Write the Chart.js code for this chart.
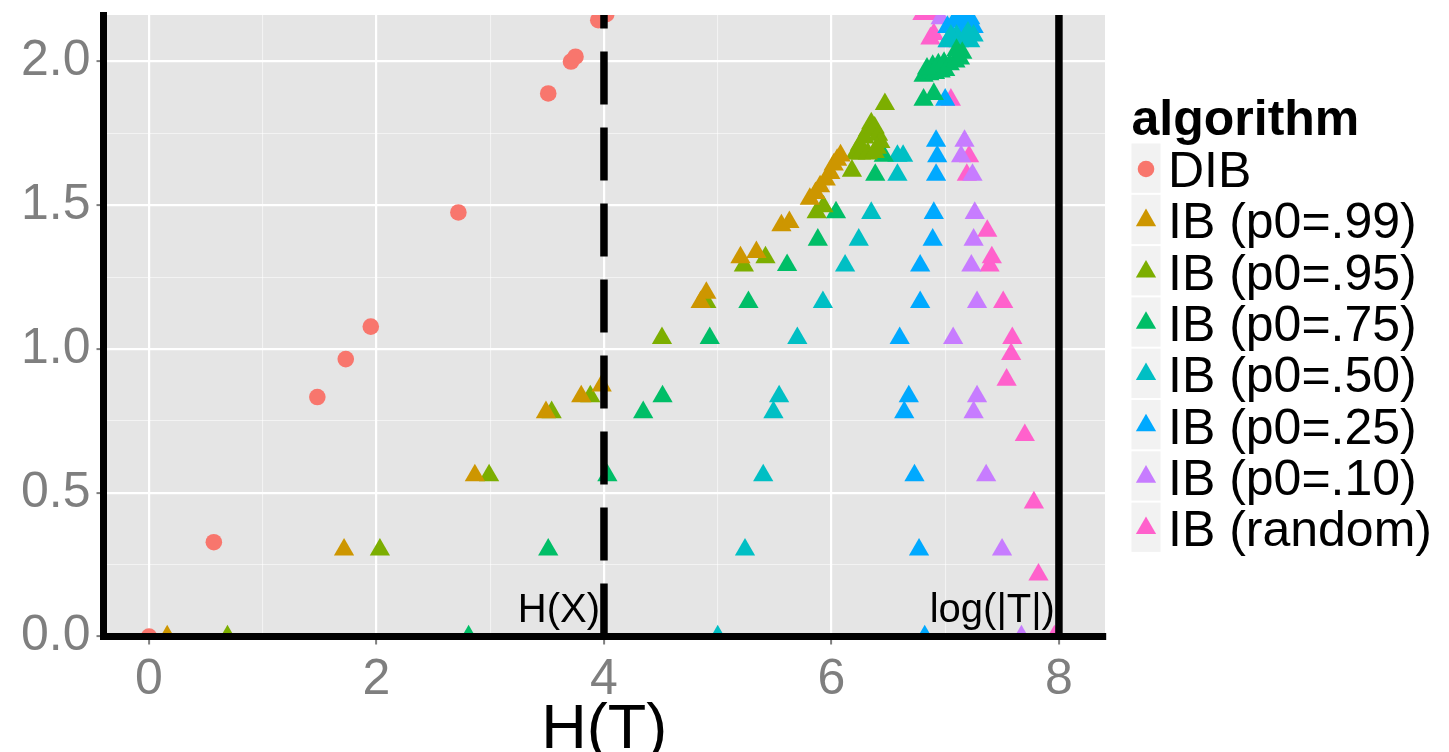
<!DOCTYPE html>
<html>
<head>
<meta charset="utf-8">
<script src="https://cdn.jsdelivr.net/npm/chart.js@4.4.0/dist/chart.umd.min.js"></script>
<style>
  html, body { margin: 0; padding: 0; background: #fff; }
</style>
</head>
<body>
<canvas id="ibPlot" width="1449" height="752"></canvas>
<script>
// series labels and colours (ggplot hue palette)
const seriesNames = ["DIB", "IB (p0=.99)", "IB (p0=.95)", "IB (p0=.75)", "IB (p0=.50)", "IB (p0=.25)", "IB (p0=.10)", "IB (random)"];
const seriesColors = ["#F8766D", "#CD9600", "#7CAE00", "#00BE67", "#00BFC4", "#00A9FF", "#C77CFF", "#FF61CC"];

// [H(T), y] pairs
const dibPts = [[0,0],[0.57,0.328],[1.48,0.833],[1.73,0.965],[1.95,1.078],[2.72,1.475],[3.51,1.889],[3.71,2.0],[3.75,2.017],[3.95,2.144],[4.02,2.165]];
const ib99 = [[0.16,0],[1.715,0.302],[2.865,0.56],[3.49,0.78],[3.80,0.835],[3.98,0.873],[4.85,1.163],[4.90,1.195],[5.20,1.319],[5.34,1.337],[5.56,1.43],[5.63,1.441],[5.81,1.522],[5.86,1.542],[5.90,1.566],[5.95,1.589],[5.99,1.612],[6.02,1.641],[6.05,1.658],[6.08,1.673]];
const ib95 = [[0.69,0],[2.03,0.302],[2.99,0.56],[3.54,0.78],[3.88,0.835],[4.51,1.038],[4.90,1.163],[5.23,1.29],[5.42,1.319],[5.87,1.475],[5.93,1.496],[6.18,1.62],[6.21,1.68],[6.26,1.68],[6.32,1.68],[6.38,1.685],[6.25,1.71],[6.29,1.735],[6.32,1.76],[6.35,1.785],[6.38,1.77],[6.41,1.745],[6.43,1.72],[6.40,1.70],[6.47,1.852]];
const ib75 = [[2.81,0],[3.51,0.302],[4.03,0.56],[4.345,0.78],[4.515,0.835],[4.93,1.038],[5.27,1.163],[5.61,1.292],[5.88,1.38],[6.04,1.475],[6.385,1.606],[6.46,1.672],[6.81,1.867],[6.90,1.887],[6.81,1.95],[6.86,1.955],[6.91,1.96],[6.96,1.965],[7.00,1.97],[6.84,1.975],[6.89,1.985],[6.94,1.99],[6.99,1.995],[7.04,1.99],[7.09,2.0],[7.13,2.01],[7.15,2.03],[7.10,2.04]];
const ib50 = [[5.00,0],[5.24,0.302],[5.40,0.56],[5.49,0.78],[5.54,0.835],[5.70,1.038],[5.925,1.163],[6.12,1.29],[6.24,1.38],[6.35,1.473],[6.58,1.606],[6.58,1.672],[6.63,1.672],[7.02,2.07],[7.07,2.075],[7.12,2.07],[7.17,2.08],[7.22,2.07],[7.25,2.09],[7.10,2.09],[7.20,2.10],[7.05,2.09]];
const ib25 = [[6.82,0],[6.77,0.302],[6.73,0.56],[6.64,0.78],[6.68,0.835],[6.60,1.038],[6.78,1.163],[6.78,1.29],[6.89,1.38],[6.90,1.473],[6.92,1.606],[6.93,1.67],[6.92,1.724],[7.00,1.867],[7.02,2.12],[7.08,2.14],[7.14,2.15],[7.20,2.13],[7.25,2.12],[7.16,2.11],[7.22,2.15]];
const ib10 = [[7.67,0],[7.50,0.302],[7.36,0.56],[7.25,0.78],[7.28,0.835],[7.07,1.038],[7.28,1.163],[7.23,1.29],[7.25,1.38],[7.26,1.473],[7.24,1.606],[7.14,1.67],[7.17,1.724],[7.03,2.07],[6.96,2.15]];
const ibRandom = [[7.96,0],[7.82,0.215],[7.78,0.466],[7.70,0.70],[7.54,0.893],[7.58,0.982],[7.59,1.038],[7.51,1.163],[7.39,1.29],[7.41,1.319],[7.37,1.411],[7.19,1.606],[7.21,1.67],[7.05,1.867],[6.87,2.08],[6.90,2.095],[6.80,2.165],[6.88,2.165]];

const allSeries = [dibPts, ib99, ib95, ib75, ib50, ib25, ib10, ibRandom];

// axis ticks (minor ones get no label)
const xTickValues = [0, 1, 2, 3, 4, 5, 6, 7, 8];
const yTickValues = [0, 0.25, 0.5, 0.75, 1, 1.25, 1.5, 1.75, 2];
const xTitle = "H(T)";
const legendTitle = "algorithm";

// vertical reference lines
const refLines = [
  { x: 4, label: "H(X)", dashed: true },
  { x: 8, label: "log(|T|)", dashed: false }
];

const FONT = "'Liberation Sans', Arial, Helvetica, sans-serif";

const isMajorX = v => v % 2 === 0;
const isMajorY = v => Math.abs(v * 2 - Math.round(v * 2)) < 1e-9;

const panelPlugin = {
  id: "panel",
  beforeDraw(chart) {
    const a = chart.chartArea, ctx = chart.ctx;
    ctx.save();
    ctx.fillStyle = "#E5E5E5";
    ctx.fillRect(a.left, a.top, a.right - a.left, a.bottom - a.top);
    ctx.restore();
  },
  afterDatasetsDraw(chart) {
    const a = chart.chartArea, ctx = chart.ctx;
    const xs = chart.scales.x;
    ctx.save();
    refLines.forEach(r => {
      const px = xs.getPixelForValue(r.x);
      ctx.beginPath();
      ctx.strokeStyle = "#000";
      ctx.lineWidth = 7.5;
      ctx.setLineDash(r.dashed ? [53, 23] : []);
      ctx.moveTo(px, a.bottom);
      ctx.lineTo(px, a.top);
      ctx.stroke();
      ctx.setLineDash([]);
      ctx.fillStyle = "#000";
      ctx.font = "40px " + FONT;
      ctx.textAlign = "right";
      ctx.textBaseline = "alphabetic";
      ctx.fillText(r.label, px - 4, 622);
    });
    ctx.restore();
  },
  afterDraw(chart) {
    const ctx = chart.ctx, a = chart.chartArea;
    ctx.save();
    // x axis title
    ctx.fillStyle = "#000";
    ctx.font = "63px " + FONT;
    ctx.textAlign = "center";
    ctx.textBaseline = "alphabetic";
    ctx.fillText(xTitle, (a.left + a.right) / 2, 748);

    // legend
    const lx = 1131.5, top0 = 143.5, rowH = 51.3;
    ctx.textAlign = "left";
    ctx.font = "bold 50px " + FONT;
    ctx.fillText(legendTitle, lx, 135);
    ctx.font = "50px " + FONT;
    chart.data.datasets.forEach((ds, i) => {
      const t = top0 + i * rowH;
      const cy = t + 25.5;
      ctx.fillStyle = "#F2F2F2";
      ctx.fillRect(lx, t, 29, rowH - 2);
      ctx.fillStyle = ds.backgroundColor;
      Chart.helpers.drawPoint(ctx, { pointStyle: ds.pointStyle, radius: ds.pointRadius, rotation: 0, borderWidth: 0 }, lx + 14.5, cy);
      ctx.fillStyle = "#000";
      ctx.fillText(ds.label, 1168, cy + 18);
    });
    ctx.restore();
  }
};

const datasets = allSeries.map((pts, i) => ({
  label: seriesNames[i],
  data: pts.map(p => ({ x: p[0], y: p[1] })),
  pointStyle: i === 0 ? "circle" : "triangle",
  pointRadius: i === 0 ? 8.3 : 11.7,
  pointHoverRadius: i === 0 ? 8.3 : 11.7,
  backgroundColor: seriesColors[i],
  borderColor: seriesColors[i],
  pointBorderWidth: 0,
  borderWidth: 0,
  showLine: false,
  clip: 0
}));

new Chart(document.getElementById("ibPlot"), {
  type: "scatter",
  data: { datasets },
  options: {
    responsive: false,
    devicePixelRatio: 1,
    animation: false,
    layout: { autoPadding: false, padding: { left: 0, top: 15, right: 344, bottom: 0 } },
    plugins: { legend: { display: false }, tooltip: { enabled: false } },
    scales: {
      x: {
        type: "linear",
        min: -0.40,
        max: 8.405,
        afterBuildTicks: s => { s.ticks = xTickValues.map(v => ({ value: v })); },
        afterFit: s => { s.height = 115.5; },
        ticks: {
          callback: v => (isMajorX(v) ? String(v) : ""),
          font: { size: 50, family: FONT },
          color: "#7F7F7F",
          padding: 6,
          maxRotation: 0,
          autoSkip: false
        },
        grid: {
          color: c => (c.tick && isMajorX(c.tick.value) ? "#FFFFFF" : "rgba(255,255,255,0.55)"),
          lineWidth: c => (c.tick && isMajorX(c.tick.value) ? 2.2 : 1.1),
          tickColor: c => (c.tick && isMajorX(c.tick.value) ? "#7F7F7F" : "rgba(0,0,0,0)"),
          tickLength: 8,
          tickWidth: 2
        },
        border: { display: true, color: "#000", width: 7, z: 1 }
      },
      y: {
        type: "linear",
        min: 0,
        max: 2.162,
        afterBuildTicks: s => { s.ticks = yTickValues.map(v => ({ value: v })); },
        afterFit: s => { s.width = 103.5; s.paddingTop = 0; s.paddingBottom = 0; },
        ticks: {
          callback: v => (isMajorY(v) ? v.toFixed(1) : ""),
          font: { size: 50, family: FONT, lineHeight: 0.3 },
          color: "#7F7F7F",
          padding: 6,
          autoSkip: false
        },
        grid: {
          color: c => (c.tick && isMajorY(c.tick.value) ? "#FFFFFF" : "rgba(255,255,255,0.55)"),
          lineWidth: c => (c.tick && isMajorY(c.tick.value) ? 2.2 : 1.1),
          tickColor: c => (c.tick && isMajorY(c.tick.value) ? "#7F7F7F" : "rgba(0,0,0,0)"),
          tickLength: 7,
          tickWidth: 2
        },
        border: { display: true, color: "#000", width: 7, z: 1 }
      }
    }
  },
  plugins: [panelPlugin]
});
</script>
</body>
</html>
